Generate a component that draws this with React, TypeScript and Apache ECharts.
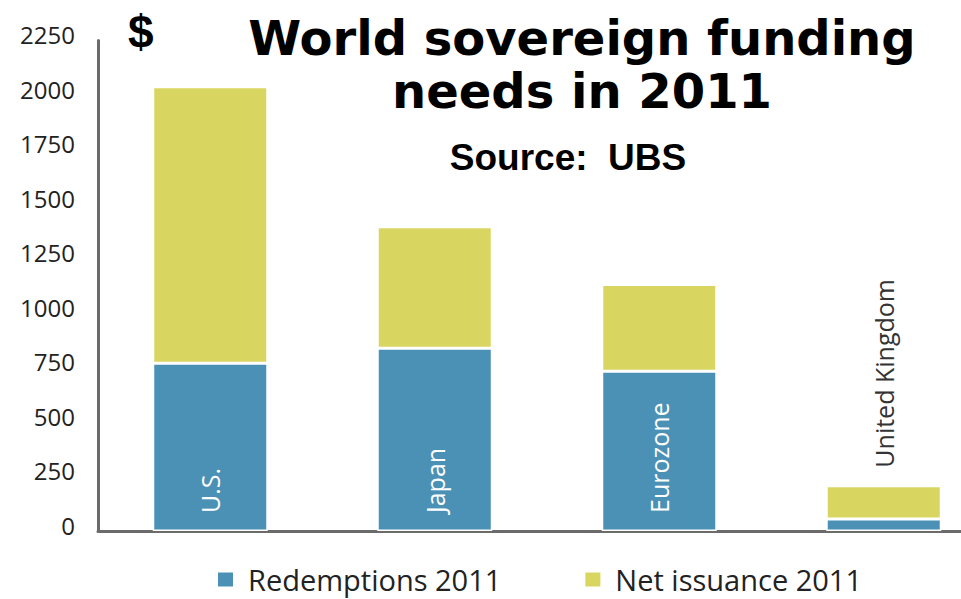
import React, { useEffect, useRef } from "react";
import * as echarts from "echarts";

const categories = ["U.S.", "Japan", "Eurozone", "United Kingdom"];
const redemptions = [770, 838, 733, 55];
const netIssuance = [1268, 558, 398, 153];
const yTicks = { min: 0, max: 2250, interval: 250 };

export default function App() {
  const ref = useRef<HTMLDivElement>(null);
  useEffect(() => {
    if (!ref.current) return;
    document.body.style.margin = "0";
    const chart = echarts.init(ref.current, undefined, { renderer: "svg" });
    const bodyFont = "'Open Sans', 'Noto Sans', sans-serif";
    chart.setOption({
      animation: false,
      backgroundColor: "#ffffff",
      title: [
        {
          text: "World sovereign funding\nneeds in 2011",
          left: 577,
          top: 6,
          textAlign: "center",
          textStyle: {
            fontFamily: "'DejaVu Sans', sans-serif",
            fontWeight: "bold",
            fontSize: 48,
            lineHeight: 53,
            color: "#000",
          },
        },
        {
          text: "Source:  UBS",
          left: 563,
          top: 134,
          textAlign: "center",
          textStyle: {
            fontFamily: "'Liberation Sans', Arial, sans-serif",
            fontWeight: "bold",
            fontSize: 37,
            color: "#000",
          },
        },
        {
          text: "$",
          left: 123,
          top: 4,
          textStyle: {
            fontFamily: "'Liberation Sans', Arial, sans-serif",
            fontWeight: "bold",
            fontSize: 46,
            color: "#000",
          },
        },
      ],
      legend: {
        top: 560,
        left: 211,
        icon: "rect",
        itemWidth: 17,
        itemHeight: 16,
        itemGap: 82,
        textStyle: {
          fontFamily: bodyFont,
          fontSize: 29,
          color: "#222",
          padding: [0, 0, 30, 9],
        },
        data: ["Redemptions 2011", "Net issuance 2011"],
      },
      grid: { left: 98, top: 40.5, width: 898, bottom: 68, outerBoundsMode: "none" },
      xAxis: {
        type: "category",
        data: categories,
        axisLine: { lineStyle: { color: "#6b6b6b", width: 3 } },
        axisTick: { show: false },
        axisLabel: { show: false },
      },
      yAxis: {
        type: "value",
        min: yTicks.min,
        max: yTicks.max,
        interval: yTicks.interval,
        splitLine: { show: false },
        axisLine: { show: true, lineStyle: { color: "#6b6b6b", width: 3 } },
        axisTick: { show: false },
        axisLabel: {
          fontFamily: bodyFont,
          fontSize: 24,
          lineHeight: 12,
          color: "#222",
          margin: 23,
          verticalAlign: "bottom",
          formatter: (v: number) => String(v),
        },
      },
      series: [
        {
          name: "Redemptions 2011",
          type: "bar",
          stack: "total",
          barWidth: 115,
          itemStyle: { color: "#4B91B5", borderColor: "#ffffff", borderWidth: 1.5 },
          label: {
            show: true,
            position: "insideBottom",
            rotate: 90,
            align: "left",
            verticalAlign: "middle",
            distance: 18,
            fontFamily: bodyFont,
            fontSize: 25,
            color: "#ffffff",
            formatter: (p: any) => (p.dataIndex < 3 ? p.name : ""),
          },
          data: redemptions,
        },
        {
          name: "Net issuance 2011",
          type: "bar",
          stack: "total",
          barWidth: 115,
          itemStyle: { color: "#D8D660", borderColor: "#ffffff", borderWidth: 1.5 },
          label: {
            show: true,
            position: "top",
            rotate: 90,
            align: "left",
            verticalAlign: "middle",
            distance: 18,
            fontFamily: bodyFont,
            fontSize: 25,
            color: "#333",
            formatter: (p: any) => (p.dataIndex === 3 ? p.name : ""),
          },
          data: netIssuance,
        },
      ],
    });
    return () => chart.dispose();
  }, []);
  return <div ref={ref} style={{ width: 961, height: 599 }} />;
}
